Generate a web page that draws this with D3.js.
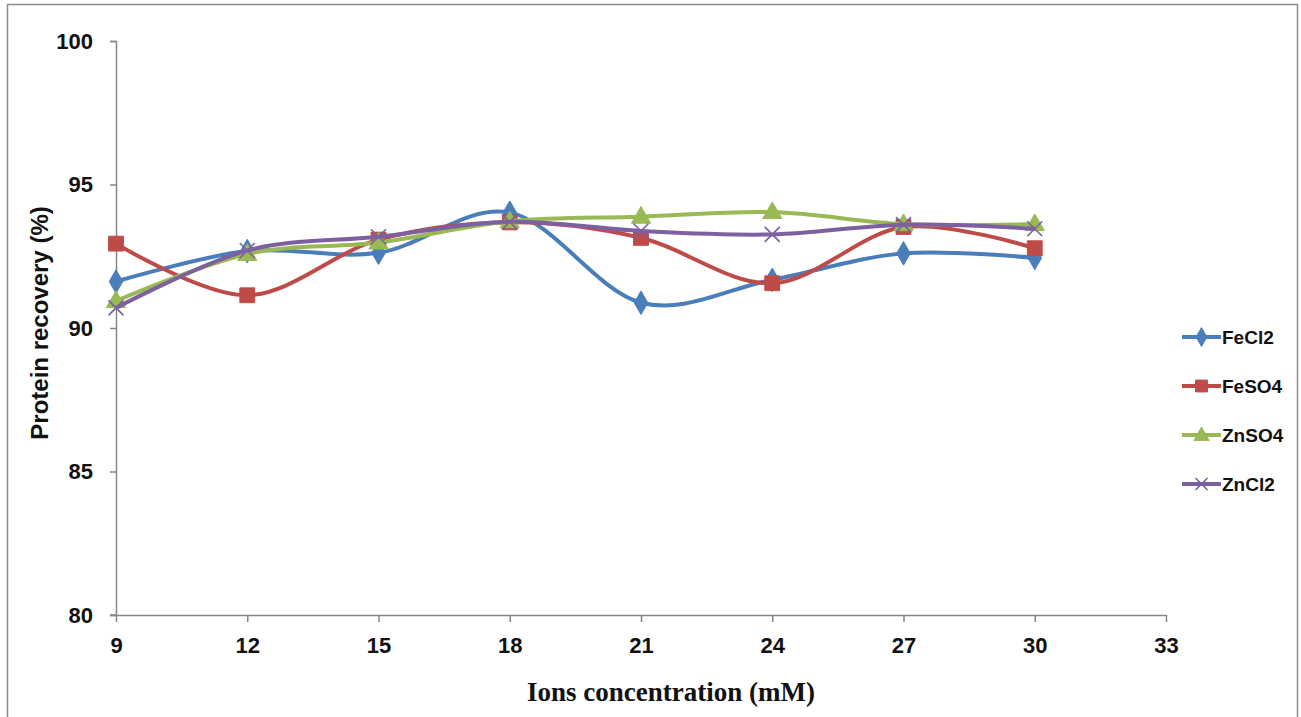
<!DOCTYPE html>
<html><head><meta charset="utf-8">
<script src="https://cdn.jsdelivr.net/npm/d3@7"></script>
<style>html,body{margin:0;padding:0;background:#fff;}svg{display:block;}</style>
</head><body>
<svg id="chart" width="1301" height="717"></svg>
<script>
const concentrations = [9, 12, 15, 18, 21, 24, 27, 30];
const feCl2 = [91.62, 92.68, 92.62, 94.02, 90.88, 91.68, 92.6, 92.44];
const feSO4 = [92.94, 91.14, 93.08, 93.68, 93.14, 91.56, 93.52, 92.78];
const znSO4 = [90.94, 92.58, 92.98, 93.72, 93.88, 94.04, 93.62, 93.62];
const znCl2 = [90.7, 92.7, 93.18, 93.7, 93.38, 93.26, 93.6, 93.46];
const seriesNames = ["FeCl2", "FeSO4", "ZnSO4", "ZnCl2"];
const xTicks = [9, 12, 15, 18, 21, 24, 27, 30, 33];
const yTicks = [80, 85, 90, 95, 100];
const xTitle = "Ions concentration (mM)";
const yTitle = "Protein recovery (%)";

const seriesValues = [feCl2, feSO4, znSO4, znCl2];
const colors = ["#4A7EBB", "#BE4B48", "#98B954", "#7D60A0"];
const markers = ["diamond", "square", "triangle", "x"];

const svg = d3.select("#chart");
// outer border
svg.append("rect").attr("x", 7.5).attr("y", 4.5).attr("width", 1290).attr("height", 720)
  .attr("fill", "#fff").attr("stroke", "#8c8c8c").attr("stroke-width", 1.5);

const x = d3.scaleLinear().domain([9, 33]).range([116, 1166]);
const y = d3.scaleLinear().domain([80, 100]).range([615, 41]);
const axisColor = "#868686";

// Y axis
const gy = svg.append("g").attr("transform", "translate(116,0)")
  .call(d3.axisLeft(y).tickValues(yTicks).tickSize(6).tickPadding(17).tickFormat(d3.format("d")));
// X axis
const gx = svg.append("g").attr("transform", "translate(0,615)")
  .call(d3.axisBottom(x).tickValues(xTicks).tickSize(7).tickPadding(15).tickSizeOuter(0).tickFormat(d3.format("d")));
[gx, gy].forEach(g => {
  g.select(".domain").attr("stroke", axisColor).attr("stroke-width", 1.5);
  g.selectAll(".tick line").attr("stroke", axisColor).attr("stroke-width", 1.5);
  g.selectAll(".tick text").attr("fill", "#111").attr("font-family", "'Liberation Sans', Arial, sans-serif")
    .attr("font-weight", "bold").attr("font-size", 22);
});
// extend x axis line left to meet y tick at 80
svg.append("line").attr("x1", 110).attr("x2", 116).attr("y1", 615).attr("y2", 615)
  .attr("stroke", axisColor).attr("stroke-width", 1.5);

const line = d3.line().x((d, i) => x(concentrations[i])).y(d => y(d)).curve(d3.curveCatmullRom.alpha(0));

function drawMarker(g, type, color, cx, cy, scale) {
  const s = scale || 1;
  if (type === "x") {
    const r = 7.5 * s;
    g.append("path").attr("d", `M${cx - r},${cy - r}L${cx + r},${cy + r}M${cx - r},${cy + r}L${cx + r},${cy - r}`)
      .attr("stroke", color).attr("stroke-width", 1.6).attr("fill", "none");
  } else {
    const sym = type === "diamond" ? d3.symbolDiamond : type === "square" ? d3.symbolSquare : d3.symbolTriangle;
    const size = type === "diamond" ? 160 : type === "square" ? 220 : 160;
    g.append("path").attr("d", d3.symbol().type(sym).size(size * s * s)())
      .attr("transform", `translate(${cx},${cy + (type === "triangle" ? 1 : 0)})`)
      .attr("fill", color).attr("stroke", color).attr("stroke-width", 1);
  }
}

seriesValues.forEach((vals, k) => {
  const g = svg.append("g");
  g.append("path").datum(vals).attr("d", line).attr("fill", "none")
    .attr("stroke", colors[k]).attr("stroke-width", 4).attr("stroke-linejoin", "round");
  vals.forEach((v, i) => drawMarker(g, markers[k], colors[k], x(concentrations[i]), y(v)));
});

// legend
const legY = [337, 386, 435, 484];
seriesNames.forEach((name, k) => {
  const g = svg.append("g");
  g.append("line").attr("x1", 1182).attr("x2", 1221).attr("y1", legY[k]).attr("y2", legY[k])
    .attr("stroke", colors[k]).attr("stroke-width", 4);
  drawMarker(g, markers[k], colors[k], 1201.5, legY[k], 0.8);
  g.append("text").attr("x", 1222).attr("y", legY[k]).attr("dy", "0.35em")
    .attr("font-family", "'Liberation Sans', Arial, sans-serif").attr("font-weight", "bold")
    .attr("font-size", 19).attr("fill", "#111").text(name);
});

// axis titles
svg.append("text").attr("transform", "translate(48,323) rotate(-90)").attr("text-anchor", "middle")
  .attr("font-family", "'Liberation Sans', Arial, sans-serif").attr("font-weight", "bold")
  .attr("font-size", 24).attr("fill", "#111").text(yTitle);
svg.append("text").attr("x", 671).attr("y", 701).attr("text-anchor", "middle")
  .attr("font-family", "'Liberation Serif', 'Times New Roman', serif").attr("font-weight", "bold")
  .attr("font-size", 27).attr("fill", "#111").text(xTitle);
</script>
</body></html>
